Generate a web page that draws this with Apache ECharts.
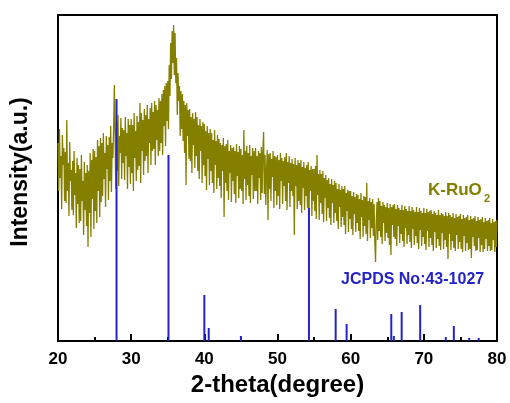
<!DOCTYPE html>
<html>
<head>
<meta charset="utf-8">
<script src="https://cdn.jsdelivr.net/npm/echarts@6/dist/echarts.min.js"></script>
<style>html,body{margin:0;padding:0;background:#fff}#c{width:510px;height:403px}</style>
</head>
<body>
<div id="c"></div>
<script>
// Scan grid (2-theta, degrees)
const scanStart = 20;
const scanStep = 0.1;
// Measured intensity (a.u.) of K-RuO2, one row per degree
const intensity = [
198,150,212,163,185,132,206,176,193,140,
189,138,221,150,178,125,199,160,171,131,
180,126,190,146,168,113,183,137,176,118,
172,120,186,140,160,106,179,131,168,115,
176,94,170,128,188,104,181,142,192,112,
190,130,184,118,201,150,195,124,203,139,
198,145,208,162,188,134,205,172,196,141,
204,160,215,149,198,183,212,256,207,152,
219,170,226,155,205,188,223,162,213,178,
211,161,224,185,208,152,222,174,216,157,
222,168,216,150,228,183,210,160,225,171,
219,175,238,158,228,190,221,166,232,180,
226,185,236,168,222,198,233,176,238,190,
229,192,240,176,236,201,231,185,243,190,
240,198,247,186,251,215,255,195,258,220,
260,212,276,245,298,262,310,278,316,266,
308,258,283,226,268,240,255,205,250,212,
247,200,240,188,236,156,238,205,231,182,
232,180,224,168,228,196,222,173,229,185,
224,170,216,162,222,190,215,158,219,176,
217,165,210,151,215,182,208,156,212,170,
208,158,201,148,211,176,200,152,206,163,
202,155,198,143,196,170,203,124,195,158,
197,150,201,141,190,168,196,139,193,160,
194,147,190,138,197,165,189,143,195,152,
192,150,186,137,211,162,190,141,195,156,
188,145,196,138,185,166,193,142,190,150,
193,150,185,137,190,163,188,141,194,148,
189,209,147,186,136,170,191,121,187,152,
188,140,182,164,190,133,185,150,184,136,
186,145,181,132,188,160,183,137,180,155,
184,140,188,131,179,158,185,134,178,150,
182,145,177,106,183,155,176,132,181,140,
178,136,181,128,174,153,179,131,173,145,
176,133,179,126,171,150,175,125,172,140,
172,130,175,122,186,146,167,121,171,138,
167,127,170,119,163,143,166,120,161,133,
163,123,157,116,162,138,156,118,160,128,
158,120,152,112,157,134,151,114,155,124,
152,116,155,107,148,130,151,109,150,122,
150,112,145,106,149,127,144,109,147,118,
146,110,142,102,148,124,141,104,145,115,
144,107,158,100,140,121,143,103,139,113,
142,105,137,99,79,120,139,101,143,110,
140,104,135,97,139,118,136,100,134,108,
138,103,133,96,137,86,134,116,136,104,
137,102,132,95,136,115,133,98,131,107,
136,100,131,94,135,113,132,97,130,106,
135,99,130,93,134,112,131,96,129,105,
134,98,129,92,133,111,130,95,128,104,
133,97,128,91,132,110,129,94,130,103,
131,96,127,90,130,109,128,93,126,102,
131,95,126,91,128,108,127,92,125,101,
129,94,125,82,128,107,126,91,124,100,
128,93,123,90,127,106,124,92,125,99,
127,92,122,89,126,105,123,90,124,98,
126,91,121,92,125,83,122,104,123,95,
125,90,120,91,124,103,121,89,122,96,
124,89,119,92,123,102,120,90,121,95,
123,90,118,91,122,101,119,89,120,94,
121
];
// JCPDS No:43-1027 reference lines
const refPos = [28.0, 35.1, 40.0, 40.6, 45.0, 54.3, 57.95, 59.45, 65.55, 65.9, 66.97, 69.5, 73.0, 74.1, 76.2, 77.5];
const refInt = [242, 186, 46, 13, 5, 133, 32, 17, 27, 5, 29, 36, 4, 15, 3, 3];
const xTicks = [20, 30, 40, 50, 60, 70, 80];

const OLIVE = '#857f00';
const BLUE = '#2323c8';
const FONT = 'Liberation Sans, Arial, sans-serif';

const lineData = intensity.map((v, i) => [+(scanStart + i * scanStep).toFixed(2), v]);
const barData = refPos.map((p, i) => [p, refInt[i]]);

const chart = echarts.init(document.getElementById('c'), null, {renderer: 'canvas'});
chart.setOption({
  animation: false,
  backgroundColor: '#fff',
  grid: {left: 58, right: 13, top: 15, bottom: 62, show: true, borderColor: '#000', borderWidth: 2, backgroundColor: 'transparent'},
  xAxis: {
    type: 'value', min: xTicks[0], max: xTicks[xTicks.length - 1], interval: 10,
    name: '2-theta(degree)', nameLocation: 'middle', nameGap: 32,
    nameTextStyle: {fontFamily: FONT, fontWeight: 'bold', fontSize: 24, color: '#000'},
    axisLine: {show: true, lineStyle: {color: '#000', width: 2}},
    axisTick: {show: true, inside: true, length: 7, lineStyle: {color: '#000', width: 2}},
    minorTick: {show: true, splitNumber: 2, length: 4, lineStyle: {color: '#000', width: 2}},
    axisLabel: {margin: 10, fontFamily: FONT, fontWeight: 'bold', fontSize: 17, color: '#000'},
    splitLine: {show: false}
  },
  yAxis: {
    type: 'value', min: 0, max: 326,
    name: 'Intensity(a.u.)', nameLocation: 'middle', nameGap: 26,
    nameTextStyle: {fontFamily: FONT, fontWeight: 'bold', fontSize: 23, color: '#000', padding: [0, 0, 0, 12]},
    axisLine: {show: true, lineStyle: {color: '#000', width: 2}},
    axisTick: {show: false},
    axisLabel: {show: false},
    splitLine: {show: false}
  },
  series: [
    {
      type: 'line', data: lineData, showSymbol: false, symbol: 'none', sampling: null,
      lineStyle: {color: OLIVE, width: 1.3}, z: 2, silent: true
    },
    {
      type: 'bar', data: barData, barWidth: 2, itemStyle: {color: BLUE}, z: 3, silent: true
    }
  ],
  graphic: [
    {type: 'text', x: 428, y: 190, z: 10, style: {text: 'K-RuO', fill: OLIVE, font: 'bold 17px ' + FONT, align: 'left', verticalAlign: 'middle'}},
    {type: 'text', x: 484, y: 199, z: 10, style: {text: '2', fill: OLIVE, font: 'bold 11px ' + FONT, align: 'left', verticalAlign: 'middle'}},
    {type: 'text', x: 341, y: 280, z: 10, style: {text: 'JCPDS No:43-1027', fill: BLUE, font: 'bold 16px ' + FONT, align: 'left', verticalAlign: 'middle'}}
  ]
});
</script>
</body>
</html>
